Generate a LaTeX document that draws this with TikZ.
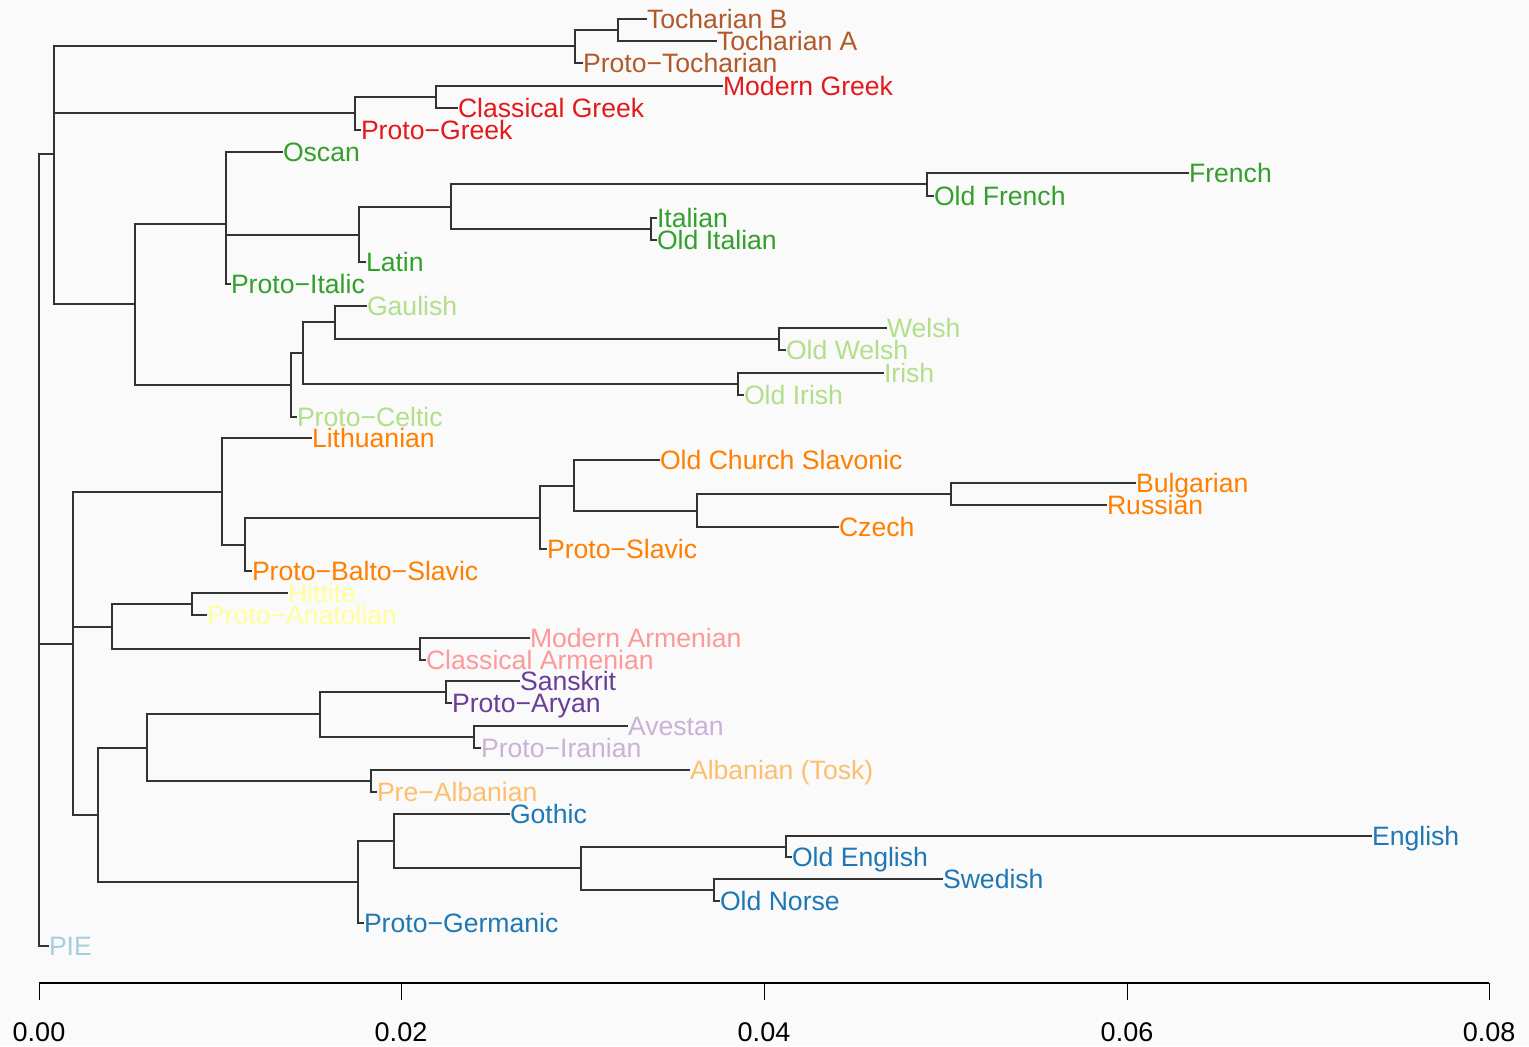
\documentclass[tikz,border=0pt]{standalone}
\usepackage{fontspec}
\setmainfont{Liberation Sans}
\usepackage{tikz}

\definecolor{pie}{HTML}{A6CEE3}
\definecolor{germ}{HTML}{1F78B4}
\definecolor{celt}{HTML}{B2DF8A}
\definecolor{ital}{HTML}{33A02C}
\definecolor{arm}{HTML}{FB9A99}
\definecolor{greek}{HTML}{E31A1C}
\definecolor{alb}{HTML}{FDBF6F}
\definecolor{balt}{HTML}{FF7F00}
\definecolor{iran}{HTML}{CAB2D6}
\definecolor{arya}{HTML}{6A3D9A}
\definecolor{anat}{HTML}{FFFF99}
\definecolor{toch}{HTML}{B15928}

\begin{document}
\begin{tikzpicture}[x=0.5pt,y=-0.5pt,
  leaf/.style={anchor=west,inner sep=0pt,outer sep=0pt,
    font=\fontsize{13.3}{14}\selectfont,text height=9.5pt,text depth=0pt},
  branch/.style={draw=black!80,line width=0.75pt},
  axisline/.style={draw=black,line width=0.9pt},
  tick/.style={draw=black,line width=0.5pt},
  ticklab/.style={inner sep=0pt,font=\fontsize{13.5}{14}\selectfont}]

\path[fill=black!2] (0,0) rectangle (1529,1046);

% inner nodes
\coordinate (root) at (39,581);
\coordinate (nA) at (54,154);
\coordinate (tochN) at (575,46);
\coordinate (tochAB) at (618,30);
\coordinate (greekN) at (355,113);
\coordinate (mgcgN) at (436,97);
\coordinate (icN) at (135,304);
\coordinate (italicN) at (226,224);
\coordinate (latinN) at (359,235);
\coordinate (romN) at (451,207);
\coordinate (frN) at (927,184);
\coordinate (itN) at (651,229);
\coordinate (celticN) at (291,385);
\coordinate (brN) at (303,353);
\coordinate (gaulN) at (335,322);
\coordinate (welN) at (779,339);
\coordinate (irN) at (738,384);
\coordinate (nB) at (73,644);
\coordinate (bsN) at (222,492);
\coordinate (pbsN) at (245,545);
\coordinate (slN) at (540,518);
\coordinate (slavN) at (574,486);
\coordinate (esN) at (697,511);
\coordinate (buruN) at (951,494);
\coordinate (anN) at (112,627);
\coordinate (hitN) at (192,604);
\coordinate (armN) at (420,649);
\coordinate (southN) at (98,815);
\coordinate (iaN) at (147,748);
\coordinate (iiN) at (320,714);
\coordinate (aryN) at (446,692);
\coordinate (iranN) at (474,737);
\coordinate (albN) at (371,781);
\coordinate (germN) at (358,882);
\coordinate (gothN) at (394,841);
\coordinate (nwN) at (581,868);
\coordinate (engN) at (786,847);
\coordinate (scN) at (714,890);

% leaves
\node[leaf,text=toch] (tochB) at (647,19) {Tocharian B};
\node[leaf,text=toch] (tochA) at (717,41) {Tocharian A};
\node[leaf,text=toch] (ptoch) at (583,63) {Proto−Tocharian};
\node[leaf,text=greek] (mgreek) at (723,86) {Modern Greek};
\node[leaf,text=greek] (cgreek) at (458,108) {Classical Greek};
\node[leaf,text=greek] (pgreek) at (361,130) {Proto−Greek};
\node[leaf,text=ital] (oscan) at (283,152) {Oscan};
\node[leaf,text=ital] (french) at (1189,173) {French};
\node[leaf,text=ital] (ofrench) at (934,196) {Old French};
\node[leaf,text=ital] (italian) at (657,218) {Italian};
\node[leaf,text=ital] (oitalian) at (657,240) {Old Italian};
\node[leaf,text=ital] (latin) at (366,262) {Latin};
\node[leaf,text=ital] (pitalic) at (231,284) {Proto−Italic};
\node[leaf,text=celt] (gaulish) at (367,306) {Gaulish};
\node[leaf,text=celt] (welsh) at (887,328) {Welsh};
\node[leaf,text=celt] (owelsh) at (786,350) {Old Welsh};
\node[leaf,text=celt] (irish) at (884,373) {Irish};
\node[leaf,text=celt] (oirish) at (744,395) {Old Irish};
\node[leaf,text=celt] (pceltic) at (297,417) {Proto−Celtic};
\node[leaf,text=balt] (lith) at (312,438) {Lithuanian};
\node[leaf,text=balt] (ocs) at (660,460) {Old Church Slavonic};
\node[leaf,text=balt] (bulg) at (1136,483) {Bulgarian};
\node[leaf,text=balt] (russ) at (1107,505) {Russian};
\node[leaf,text=balt] (czech) at (839,527) {Czech};
\node[leaf,text=balt] (pslavic) at (547,549) {Proto−Slavic};
\node[leaf,text=balt] (pbs) at (252,571) {Proto−Balto−Slavic};
\node[leaf,text=anat] (hittite) at (288,593) {Hittite};
\node[leaf,text=anat] (panat) at (207,615) {Proto−Anatolian};
\node[leaf,text=arm] (marm) at (530,638) {Modern Armenian};
\node[leaf,text=arm] (carm) at (426,660) {Classical Armenian};
\node[leaf,text=arya] (sanskrit) at (520,681) {Sanskrit};
\node[leaf,text=arya] (paryan) at (452,703) {Proto−Aryan};
\node[leaf,text=iran] (avestan) at (628,726) {Avestan};
\node[leaf,text=iran] (piran) at (481,748) {Proto−Iranian};
\node[leaf,text=alb] (tosk) at (690,770) {Albanian (Tosk)};
\node[leaf,text=alb] (palban) at (377,792) {Pre−Albanian};
\node[leaf,text=germ] (gothic) at (510,814) {Gothic};
\node[leaf,text=germ] (english) at (1372,836) {English};
\node[leaf,text=germ] (oenglish) at (792,857) {Old English};
\node[leaf,text=germ] (swedish) at (943,879) {Swedish};
\node[leaf,text=germ] (onorse) at (720,901) {Old Norse};
\node[leaf,text=germ] (pgerm) at (364,923) {Proto−Germanic};
\node[leaf,text=pie] (pie) at (49,946) {PIE};

% branches
\draw[branch] (root) |- (nA) (root) |- (nB) (root) |- (pie.west);
\draw[branch] (nA) |- (tochN) (nA) |- (greekN) (nA) |- (icN);
\draw[branch] (tochN) |- (tochAB) (tochN) |- (ptoch.west);
\draw[branch] (tochAB) |- (tochB.west) (tochAB) |- (tochA.west);
\draw[branch] (greekN) |- (mgcgN) (greekN) |- (pgreek.west);
\draw[branch] (mgcgN) |- (mgreek.west) (mgcgN) |- (cgreek.west);
\draw[branch] (icN) |- (italicN) (icN) |- (celticN);
\draw[branch] (italicN) |- (oscan.west) (italicN) |- (latinN) (italicN) |- (pitalic.west);
\draw[branch] (latinN) |- (romN) (latinN) |- (latin.west);
\draw[branch] (romN) |- (frN) (romN) |- (itN);
\draw[branch] (frN) |- (french.west) (frN) |- (ofrench.west);
\draw[branch] (itN) |- (italian.west) (itN) |- (oitalian.west);
\draw[branch] (celticN) |- (brN) (celticN) |- (pceltic.west);
\draw[branch] (brN) |- (gaulN) (brN) |- (irN);
\draw[branch] (gaulN) |- (gaulish.west) (gaulN) |- (welN);
\draw[branch] (welN) |- (welsh.west) (welN) |- (owelsh.west);
\draw[branch] (irN) |- (irish.west) (irN) |- (oirish.west);
\draw[branch] (nB) |- (bsN) (nB) |- (anN) (nB) |- (southN);
\draw[branch] (bsN) |- (lith.west) (bsN) |- (pbsN);
\draw[branch] (pbsN) |- (slN) (pbsN) |- (pbs.west);
\draw[branch] (slN) |- (slavN) (slN) |- (pslavic.west);
\draw[branch] (slavN) |- (ocs.west) (slavN) |- (esN);
\draw[branch] (esN) |- (buruN) (esN) |- (czech.west);
\draw[branch] (buruN) |- (bulg.west) (buruN) |- (russ.west);
\draw[branch] (anN) |- (hitN) (anN) |- (armN);
\draw[branch] (hitN) |- (hittite.west) (hitN) |- (panat.west);
\draw[branch] (armN) |- (marm.west) (armN) |- (carm.west);
\draw[branch] (southN) |- (iaN) (southN) |- (germN);
\draw[branch] (iaN) |- (iiN) (iaN) |- (albN);
\draw[branch] (iiN) |- (aryN) (iiN) |- (iranN);
\draw[branch] (aryN) |- (sanskrit.west) (aryN) |- (paryan.west);
\draw[branch] (iranN) |- (avestan.west) (iranN) |- (piran.west);
\draw[branch] (albN) |- (tosk.west) (albN) |- (palban.west);
\draw[branch] (germN) |- (gothN) (germN) |- (pgerm.west);
\draw[branch] (gothN) |- (gothic.west) (gothN) |- (nwN);
\draw[branch] (nwN) |- (engN) (nwN) |- (scN);
\draw[branch] (engN) |- (english.west) (engN) |- (oenglish.west);
\draw[branch] (scN) |- (swedish.west) (scN) |- (onorse.west);

% scale
\foreach \v/\x in {0.00/39,0.02/401,0.04/764,0.06/1127,0.08/1489}{
  \coordinate (ta\x) at (\x,983);
  \coordinate (tb\x) at (\x,1000);
  \draw[tick] (ta\x) -- (tb\x);
  \node[ticklab] (tl\x) at (\x,1032) {\v};
}
\draw[axisline] (ta39) -- (ta1489);
\end{tikzpicture}
\end{document}
